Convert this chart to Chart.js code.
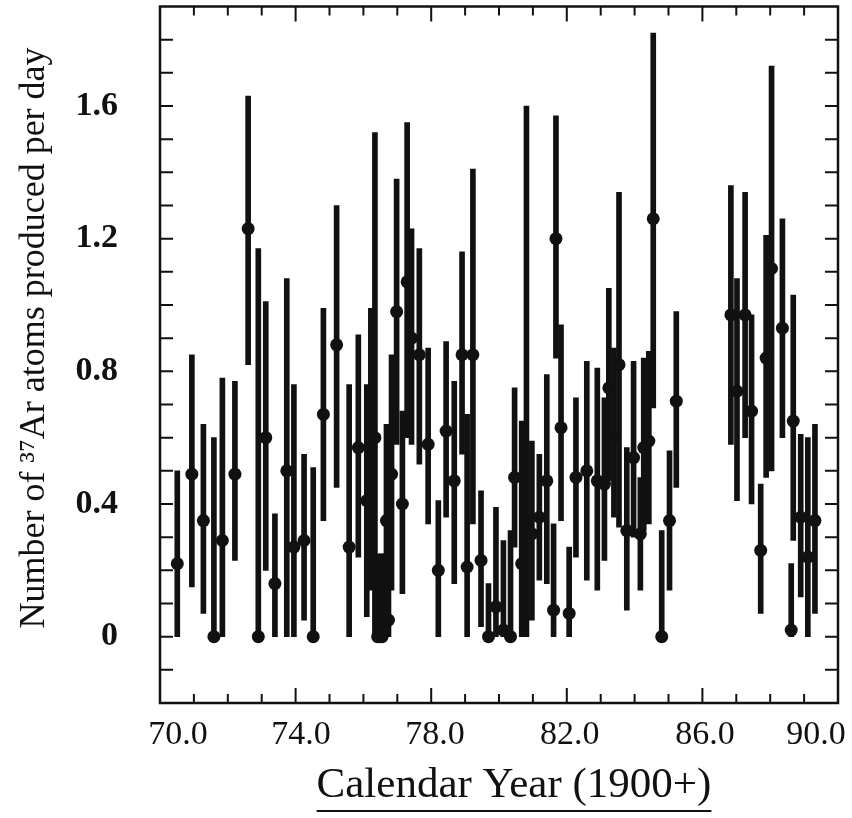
<!DOCTYPE html>
<html>
<head>
<meta charset="utf-8">
<script src="https://cdn.jsdelivr.net/npm/chart.js@4.4.1/dist/chart.umd.min.js"></script>
<style>
  html, body { margin: 0; padding: 0; background: #fff; }
</style>
</head>
<body>
<canvas id="argonChart" width="852" height="818"></canvas>
<script>
// run mid-times (calendar year - 1900) and 37Ar production rate with error bar ends
const runYear = [
  70.51, 70.94, 71.28, 71.59, 71.84, 72.21, 72.60, 72.90, 73.12, 73.39,
  73.74, 73.95, 74.25, 74.52, 74.82, 75.21, 75.58, 75.85, 76.10, 76.22,
  76.34, 76.42, 76.48, 76.55, 76.62, 76.68, 76.74, 76.83, 76.98, 77.15,
  77.29, 77.42, 77.65, 77.91, 78.21, 78.44, 78.68, 78.91, 79.06, 79.23,
  79.47, 79.69, 79.91, 80.13, 80.34, 80.46, 80.67, 80.81, 80.97, 81.19,
  81.41, 81.61, 81.68, 81.83, 82.07, 82.27, 82.59, 82.90, 83.11, 83.24,
  83.39, 83.54, 83.77, 83.97, 84.17, 84.27, 84.42, 84.55, 84.80, 85.03,
  85.23, 86.84, 87.02, 87.26, 87.45, 87.72, 87.88, 88.04, 88.36, 88.62,
  88.68, 88.90, 89.11, 89.32
];
const argonRate = [
  0.22, 0.49, 0.35, 0.00, 0.29, 0.49, 1.23, 0.00, 0.60, 0.16,
  0.50, 0.27, 0.29, 0.00, 0.67, 0.88, 0.27, 0.57, 0.41, 0.57,
  0.60, 0.00, 0.00, 0.00, 0.02, 0.35, 0.05, 0.49, 0.98, 0.40,
  1.07, 0.90, 0.85, 0.58, 0.20, 0.62, 0.47, 0.85, 0.21, 0.85,
  0.23, 0.00, 0.09, 0.02, 0.00, 0.48, 0.22, 0.35, 0.31, 0.36,
  0.47, 0.08, 1.20, 0.63, 0.07, 0.48, 0.50, 0.47, 0.46, 0.75,
  0.60, 0.82, 0.32, 0.54, 0.31, 0.57, 0.59, 1.26, 0.00, 0.35,
  0.71, 0.97, 0.74, 0.97, 0.68, 0.26, 0.84, 1.11, 0.93, 0.02,
  0.65, 0.36, 0.24, 0.35
];
const barLow = [
  0.00, 0.15, 0.07, 0.00, 0.00, 0.23, 0.82, 0.00, 0.20, 0.00,
  0.00, 0.00, 0.05, 0.00, 0.35, 0.45, 0.00, 0.24, 0.06, 0.14,
  0.00, 0.00, 0.00, 0.00, 0.00, 0.03, 0.00, 0.14, 0.58, 0.13,
  0.60, 0.58, 0.52, 0.34, 0.00, 0.36, 0.16, 0.55, 0.00, 0.34,
  0.03, 0.00, 0.00, 0.00, 0.00, 0.27, 0.00, 0.00, 0.05, 0.17,
  0.16, 0.00, 0.84, 0.35, 0.00, 0.24, 0.17, 0.14, 0.23, 0.47,
  0.36, 0.33, 0.08, 0.30, 0.14, 0.32, 0.34, 0.69, 0.00, 0.14,
  0.45, 0.58, 0.41, 0.60, 0.40, 0.07, 0.48, 0.50, 0.60, 0.00,
  0.29, 0.12, 0.00, 0.07
];
const barHigh = [
  0.50, 0.85, 0.64, 0.60, 0.78, 0.77, 1.63, 1.17, 1.01, 0.37,
  1.08, 0.76, 0.55, 0.51, 0.99, 1.30, 0.76, 0.91, 0.76, 0.99,
  1.52, 0.25, 0.22, 0.25, 0.25, 0.64, 0.37, 0.85, 1.38, 0.68,
  1.55, 1.23, 1.17, 0.87, 0.41, 0.89, 0.77, 1.16, 0.67, 1.41,
  0.44, 0.16, 0.39, 0.29, 0.32, 0.75, 0.65, 1.60, 0.59, 0.55,
  0.79, 0.34, 1.57, 0.94, 0.27, 0.72, 0.83, 0.81, 0.72, 1.05,
  0.87, 1.34, 0.57, 0.83, 0.48, 0.84, 0.86, 1.82, 0.32, 0.56,
  0.98, 1.36, 1.08, 1.34, 0.97, 0.46, 1.21, 1.72, 1.26, 0.22,
  1.03, 0.61, 0.60, 0.64
];

// printed axis labels (the 70.0 and 90.0 labels sit inside the frame ends)
const xTickLabels = ['70.0', '74.0', '78.0', '82.0', '86.0', '90.0'];
const xTickLabelAt = [70.53, 74.16, 78.11, 82.09, 86.08, 89.35];
const yTickLabels = [0, 0.4, 0.8, 1.2, 1.6];
const xTitle = 'Calendar Year (1900+)';
const yTitle = 'Number of \u00B3\u2077Ar atoms produced per day';

const ink = '#111';
const serif = '"Liberation Serif", "Times New Roman", serif';

const frameTicks = {
    id: 'frameTicks',
    afterDraw(chart) {
        const { ctx, chartArea: a, scales } = chart;
        ctx.save();
        ctx.strokeStyle = ink;
        ctx.fillStyle = ink;
        ctx.lineWidth = 2.5;
        ctx.strokeRect(a.left, a.top, a.right - a.left, a.bottom - a.top);

        // inward tick marks on all four sides
        ctx.lineWidth = 2;
        ctx.beginPath();
        scales.y.ticks.forEach((t) => {
            const py = scales.y.getPixelForValue(t.value);
            if (py <= a.top + 2 || py >= a.bottom - 2) return;
            ctx.moveTo(a.left, py);
            ctx.lineTo(a.left + 13, py);
            ctx.moveTo(a.right, py);
            ctx.lineTo(a.right - 13, py);
        });
        scales.x.ticks.forEach((t) => {
            const px = scales.x.getPixelForValue(t.value);
            if (px <= a.left + 2 || px >= a.right - 2) return;
            const len = Math.round(t.value - 70) % 4 === 0 ? 15 : 9;
            ctx.moveTo(px, a.bottom);
            ctx.lineTo(px, a.bottom - len);
            ctx.moveTo(px, a.top);
            ctx.lineTo(px, a.top + len);
        });
        ctx.stroke();

        // axis titles
        ctx.textAlign = 'center';
        ctx.textBaseline = 'middle';
        ctx.font = '43px ' + serif;
        const tx = 514;
        ctx.fillText(xTitle, tx, 786);
        const w = ctx.measureText(xTitle).width;
        ctx.lineWidth = 2;
        ctx.beginPath();
        ctx.moveTo(tx - w / 2, 811);
        ctx.lineTo(tx + w / 2, 811);
        ctx.stroke();

        ctx.translate(35, 338);
        ctx.rotate(-Math.PI / 2);
        ctx.font = '36px ' + serif;
        ctx.fillText(yTitle, 0, 0);
        ctx.restore();
    }
};

const points = runYear.map((x, i) => ({ x: x, y: argonRate[i] }));
const bars = runYear.map((x, i) => ({ x: x, y: [barLow[i], barHigh[i]] }));

new Chart(document.getElementById('argonChart'), {
    type: 'bar',
    data: {
        datasets: [{
            type: 'scatter',
            data: points,
            pointRadius: 6.5,
            pointBackgroundColor: ink,
            pointBorderWidth: 0,
            order: 0
        }, {
            type: 'bar',
            data: bars,
            backgroundColor: ink,
            borderWidth: 0,
            barThickness: 5,
            order: 1
        }]
    },
    options: {
        responsive: false,
        animation: false,
        layout: { padding: { top: 5, right: 14, left: 0, bottom: 0 } },
        plugins: {
            legend: { display: false },
            tooltip: { enabled: false }
        },
        scales: {
            x: {
                type: 'linear',
                display: false,
                min: 70,
                max: 90,
                offset: false,
                ticks: { stepSize: 1, maxTicksLimit: 100 }
            },
            xl: {
                type: 'linear',
                position: 'bottom',
                min: 70,
                max: 90,
                offset: false,
                grid: { display: false, drawTicks: false },
                border: { display: false },
                afterBuildTicks: (scale) => {
                    scale.ticks = xTickLabelAt.map((v) => ({ value: v }));
                },
                afterFit: (scale) => {
                    scale.height = 115;
                    scale.paddingLeft = 0;
                    scale.paddingRight = 0;
                },
                ticks: {
                    autoSkip: false,
                    maxRotation: 0,
                    padding: 12,
                    color: ink,
                    font: { family: serif, size: 34 },
                    callback: (v, i) => xTickLabels[i]
                }
            },
            y: {
                type: 'linear',
                min: -0.2,
                max: 1.9,
                grid: { display: false, drawTicks: false },
                border: { display: false },
                afterFit: (scale) => {
                    scale.width = 160;
                    scale.paddingTop = 0;
                    scale.paddingBottom = 0;
                },
                ticks: {
                    stepSize: 0.1,
                    maxTicksLimit: 100,
                    autoSkip: false,
                    padding: 42,
                    color: ink,
                    font: { family: serif, size: 34, weight: 'bold' },
                    callback: (v) => {
                        const hit = yTickLabels.find((t) => Math.abs(t - v) < 1e-6);
                        if (hit === undefined) return '';
                        return hit === 0 ? '0' : hit.toFixed(1);
                    }
                }
            }
        }
    },
    plugins: [frameTicks]
});
</script>
</body>
</html>
